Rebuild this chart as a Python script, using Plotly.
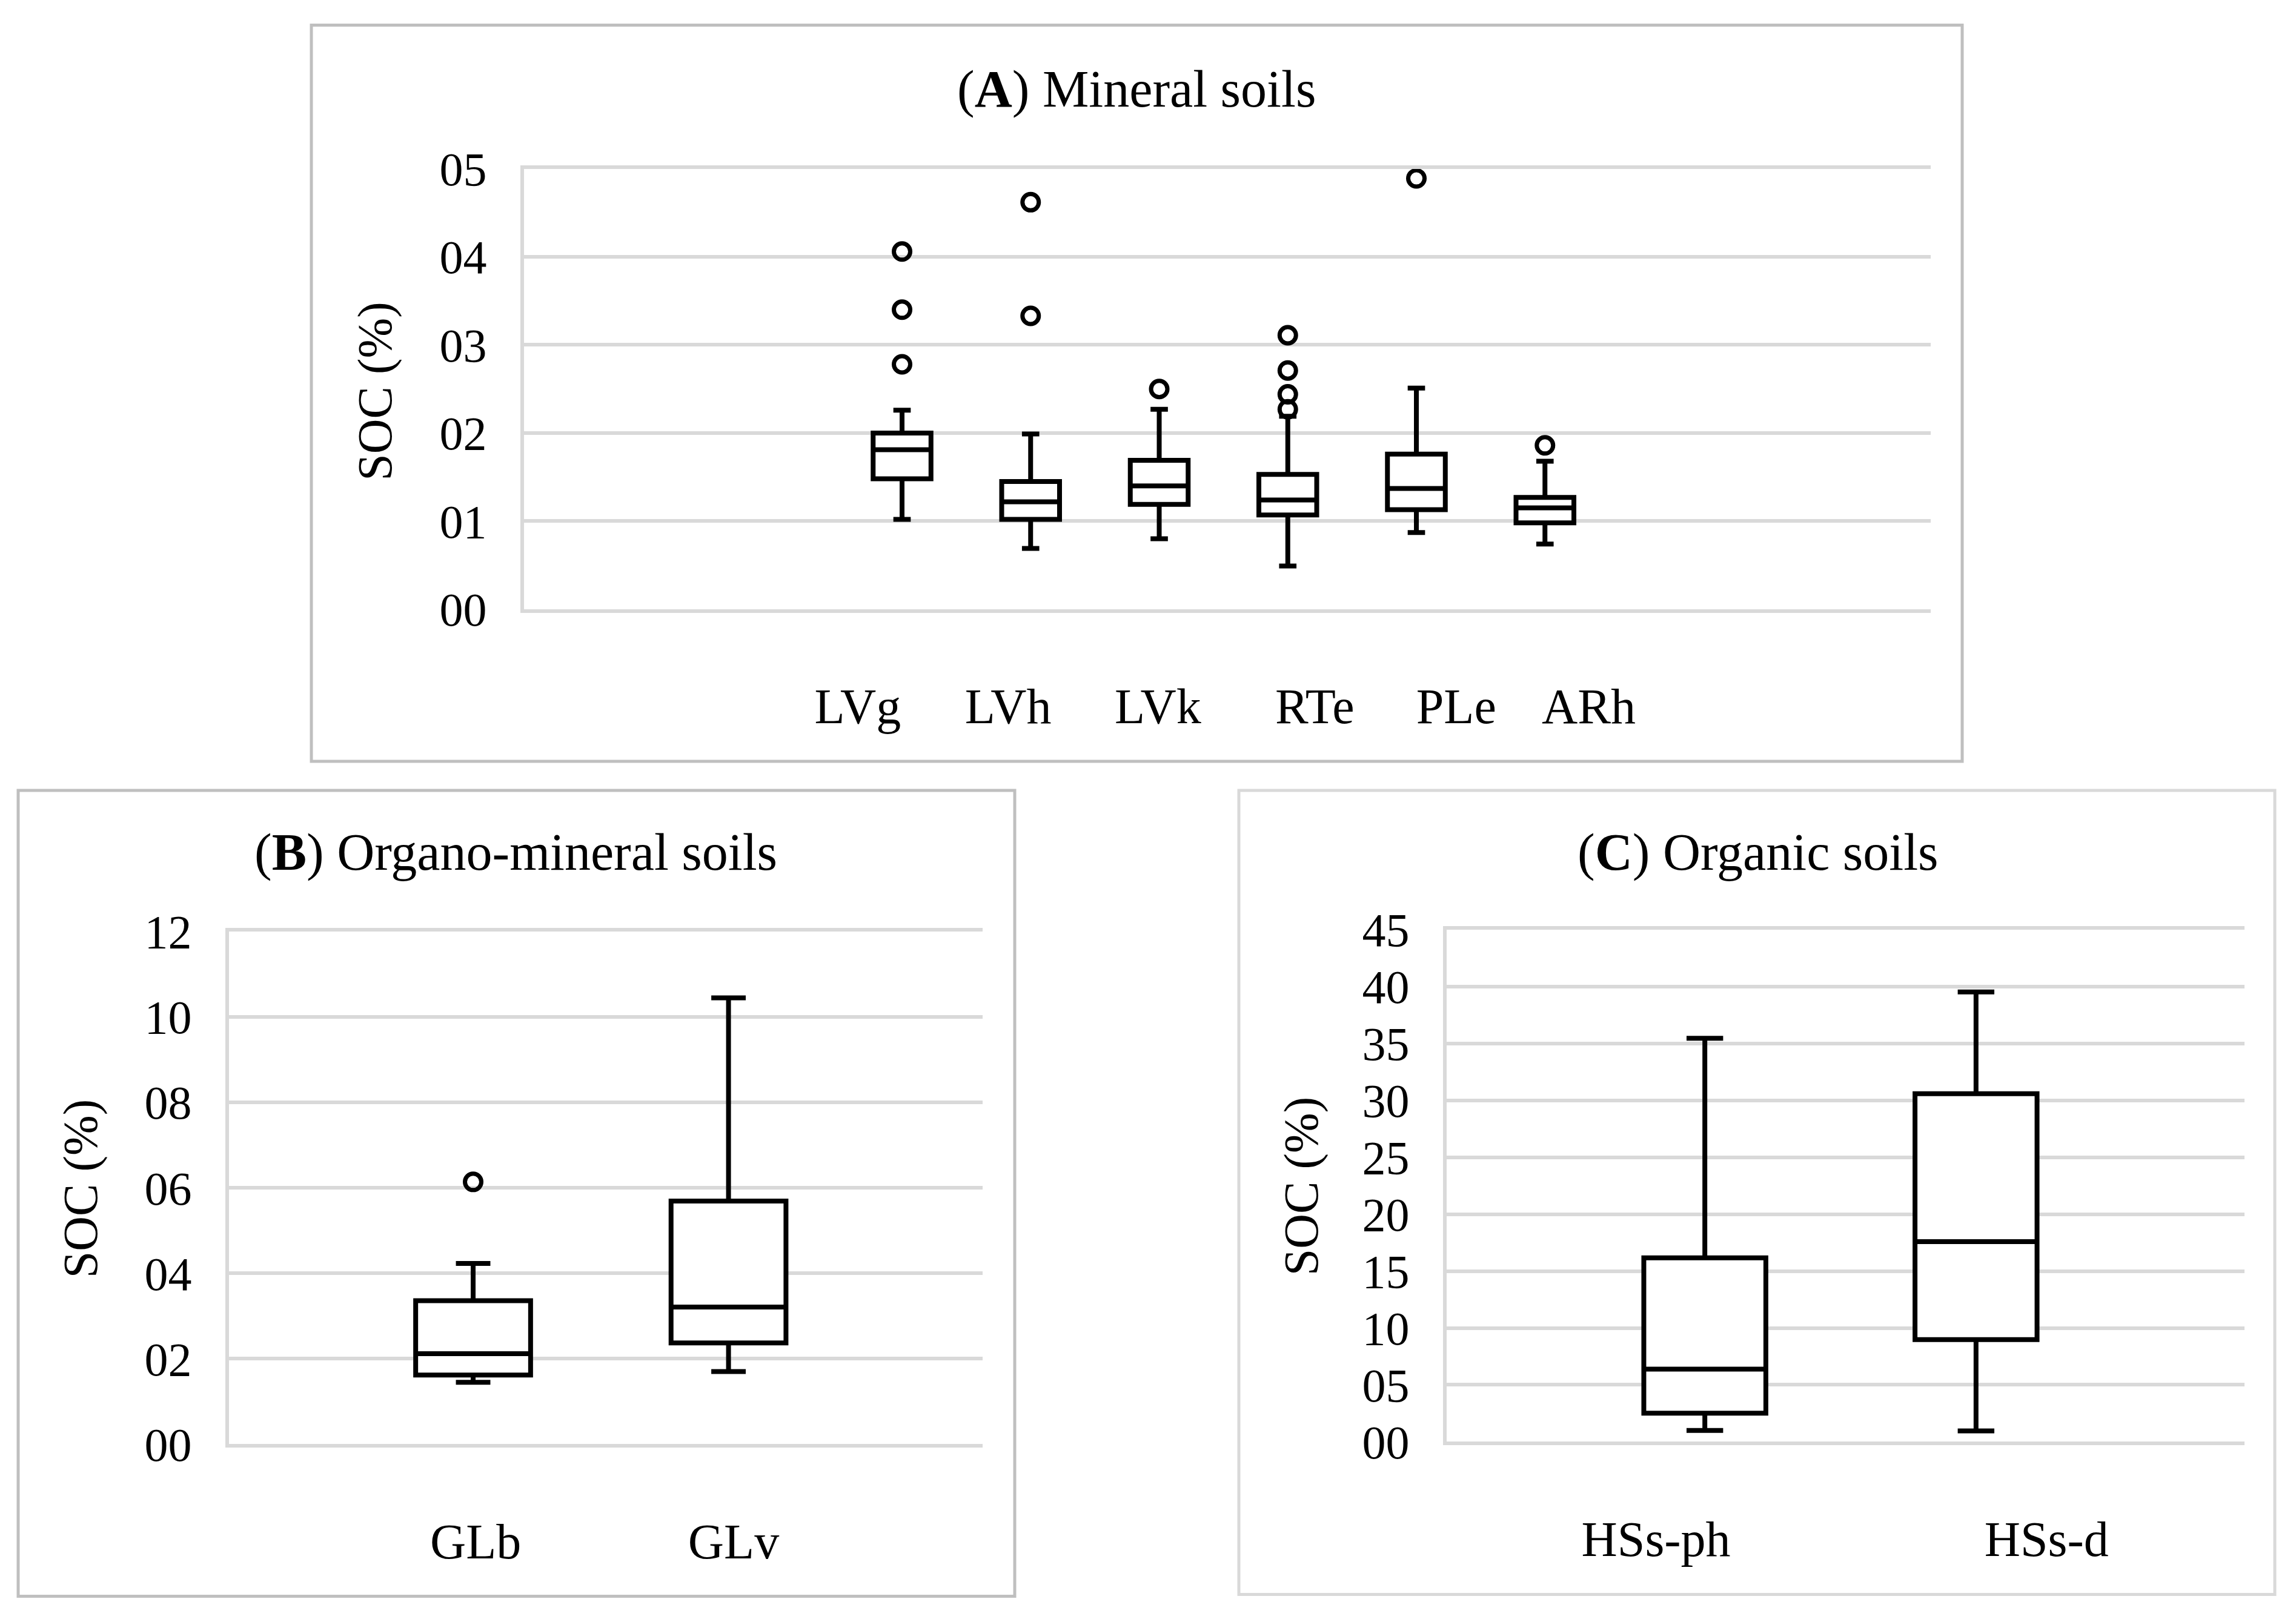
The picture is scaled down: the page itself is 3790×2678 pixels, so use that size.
import plotly.graph_objects as go

## 数据
# (A) Mineral soils
a_cats = ["LVg", "LVh", "LVk", "RTe", "PLe", "ARh"]
a_lower = [1.02, 0.69, 0.80, 0.49, 0.87, 0.74]
a_q1 = [1.48, 1.02, 1.19, 1.07, 1.13, 0.98]
a_median = [1.81, 1.22, 1.40, 1.24, 1.37, 1.15]
a_q3 = [2.00, 1.45, 1.69, 1.53, 1.76, 1.27]
a_upper = [2.26, 1.99, 2.27, 2.19, 2.51, 1.68]
a_outliers = [[4.06, 3.40, 2.78], [4.62, 3.33], [2.50], [3.11, 2.71, 2.44, 2.27], [4.89], [1.86]]
a_ticks = [0, 1, 2, 3, 4, 5]
a_ticktext = ["00", "01", "02", "03", "04", "05"]

# (B) Organo-mineral soils
b_cats = ["GLb", "GLv"]
b_lower = [1.45, 1.70]
b_q1 = [1.62, 2.37]
b_median = [2.12, 3.21]
b_q3 = [3.36, 5.69]
b_upper = [4.23, 10.45]
b_outliers = [[6.14], []]
b_ticks = [0, 2, 4, 6, 8, 10, 12]
b_ticktext = ["00", "02", "04", "06", "08", "10", "12"]

# (C) Organic soils
c_cats = ["HSs-ph", "HSs-d"]
c_lower = [0.99, 0.95]
c_q1 = [2.51, 8.98]
c_median = [6.38, 17.59]
c_q3 = [16.17, 30.59]
c_upper = [35.46, 39.53]
c_ticks = [0, 5, 10, 15, 20, 25, 30, 35, 40, 45]
c_ticktext = ["00", "05", "10", "15", "20", "25", "30", "35", "40", "45"]

W, H = 3790, 2678
FONT = "Liberation Serif"
GRID = "#d9d9d9"


# 像素坐标 -> paper 坐标 (按截图实测做了校正)
def px(x):
    return (x - 8) / W


def py(y):
    return 1 - (y - 49.5) / 2590


fig = go.Figure()

panels = [
    dict(cats=a_cats, lo=a_lower, q1=a_q1, med=a_median, q3=a_q3, up=a_upper, out=a_outliers,
         xa="x", ya="y", label_pos=[-0.345, 0.825, 1.99, 3.21, 4.31, 5.34]),
    dict(cats=b_cats, lo=b_lower, q1=b_q1, med=b_median, q3=b_q3, up=b_upper, out=b_outliers,
         xa="x2", ya="y2", label_pos=[0.01, 1.02]),
    dict(cats=c_cats, lo=c_lower, q1=c_q1, med=c_median, q3=c_q3, up=c_upper, out=None,
         xa="x3", ya="y3", label_pos=[-0.18, 1.26]),
]

for p in panels:
    pos = list(range(len(p["cats"])))
    fig.add_trace(go.Box(
        x=pos, q1=p["q1"], median=p["med"], q3=p["q3"],
        lowerfence=p["lo"], upperfence=p["up"],
        width=0.45, whiskerwidth=0.3,
        line=dict(color="black", width=8), fillcolor="white",
        boxpoints=False, xaxis=p["xa"], yaxis=p["ya"], showlegend=False,
    ))
    if p["out"]:
        ox, oy = [], []
        for i, vals in enumerate(p["out"]):
            ox += [i] * len(vals)
            oy += vals
        fig.add_trace(go.Scatter(
            x=ox, y=oy, mode="markers",
            marker=dict(symbol="circle-open", size=27, color="black", line=dict(width=7)),
            xaxis=p["xa"], yaxis=p["ya"], showlegend=False,
        ))


def xaxis(domain, rng, labels, positions, anchor):
    return dict(domain=domain, range=rng, showgrid=False, zeroline=False,
                showline=True, mirror=True, linecolor=GRID, linewidth=6,
                tickmode="array", tickvals=positions, ticktext=labels, ticks="",
                tickfont=dict(family=FONT, size=82, color="black"),
                ticklabelstandoff=84, anchor=anchor)


def yaxis(domain, rng, vals, text, anchor):
    return dict(domain=domain, range=rng, showgrid=True, gridcolor=GRID, gridwidth=6,
                zeroline=False, showline=True, linecolor=GRID, linewidth=6,
                tickmode="array", tickvals=vals, ticktext=text, ticks="",
                tickfont=dict(family=FONT, size=78, color="black"),
                ticklabelstandoff=40, anchor=anchor)


fig.update_layout(
    width=W, height=H, margin=dict(l=0, r=0, t=0, b=0),
    paper_bgcolor="white", plot_bgcolor="white",
    xaxis=xaxis([px(865), px(3187)], [-2.94, 8.0], a_cats, panels[0]["label_pos"], "y"),
    yaxis=yaxis([py(1004), py(277)], [0, 5], a_ticks, a_ticktext, "x"),
    xaxis2=xaxis([px(378), px(1622)], [-0.956, 1.995], b_cats, panels[1]["label_pos"], "y2"),
    yaxis2=yaxis([py(2382), py(1536)], [0, 12], b_ticks, b_ticktext, "x2"),
    xaxis3=xaxis([px(2388), px(3705)], [-0.952, 1.99], c_cats, panels[2]["label_pos"], "y3"),
    yaxis3=yaxis([py(2378), py(1533)], [0, 45], c_ticks, c_ticktext, "x3"),
)

## 外框
frames = [(514, 40, 3239, 1255, "#bfbfbf"),
          (30, 1303, 1675, 2633, "#bfbfbf"),
          (2045, 1303, 3755, 2630, "#d9d9d9")]
for x0, y0, x1, y1, col in frames:
    fig.add_shape(type="rect", xref="paper", yref="paper",
                  x0=px(x0), x1=px(x1), y0=py(y1), y1=py(y0),
                  line=dict(color=col, width=5), fillcolor="rgba(0,0,0,0)")

## 标题与 y 轴标题
titles = [("(<b>A</b>) Mineral soils", 1876, 145),
          ("(<b>B</b>) Organo-mineral soils", 851, 1405),
          ("(<b>C</b>) Organic soils", 2902, 1405)]
for text, x, y in titles:
    fig.add_annotation(text=text, x=px(x), y=py(y), xref="paper", yref="paper",
                       xanchor="center", yanchor="middle", showarrow=False,
                       font=dict(family=FONT, size=86, color="black"))

for x, y in [(620, 644), (133, 1960), (2148, 1956)]:
    fig.add_annotation(text="SOC (%)", x=px(x), y=py(y), xref="paper", yref="paper",
                       xanchor="center", yanchor="middle", showarrow=False, textangle=-90,
                       font=dict(family=FONT, size=80, color="black"))

fig.write_html("out.html")
